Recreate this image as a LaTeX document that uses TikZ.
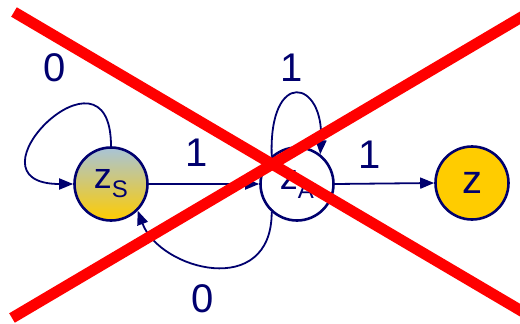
\documentclass[tikz,border=0pt]{standalone}
\usepackage{fontspec}
\setmainfont{Liberation Sans}
\usetikzlibrary{arrows.meta}
\definecolor{navy}{RGB}{0,0,110}
\definecolor{gold}{RGB}{255,204,0}
\definecolor{greyblue}{RGB}{168,196,216}
\definecolor{xred}{RGB}{255,0,0}
\begin{document}
\begin{tikzpicture}[x=1pt,y=-1pt,
  state/.style={circle,draw=navy,line width=2.6pt,minimum size=73pt,inner sep=0pt,text=navy},
  edge/.style={draw=navy,line width=1.8pt,-{Triangle[length=14pt,width=11pt]}},
  lbl/.style={text=navy,font=\fontsize{40}{40}\selectfont,inner sep=0pt},
  cross/.style={draw=xred,line width=11pt}]
\useasboundingbox (0,0) rectangle (520,324);
\node[state,top color=greyblue,bottom color=gold] (zs) at (111,184)
  {\fontsize{36}{36}\selectfont z\raisebox{-9pt}{\fontsize{24}{24}\selectfont S}};
\node[state,fill=white] (za) at (297,184)
  {\fontsize{36}{36}\selectfont z\raisebox{-9pt}{\fontsize{24}{24}\selectfont A}};
\node[state,fill=gold] (z) at (472,183) {\fontsize{40}{40}\selectfont z};
% edges
\draw[edge] (zs.north) .. controls +(0,-115) and +(-115,0) .. (zs.west);
\draw[edge] (zs.east) -- (za.west);
\draw[edge] (za.132) .. controls +(-3,-88) and +(4,-75) .. (za.52);
\draw[edge] (za.228) .. controls +(0,88) and +(22,59) .. (zs.-45);
\draw[edge] (za.east) -- (z.west);
% labels
\node[lbl] (l0a) at (55,68) {0};
\node[lbl] (l1a) at (197,153) {1};
\node[lbl] (l1b) at (292,68) {1};
\node[lbl] (l1c) at (370,155) {1};
\node[lbl] (l0b) at (203,299) {0};
% red cross
\coordinate (c1) at (14,12);
\coordinate (c2) at (530,316);
\coordinate (c3) at (12,318);
\coordinate (c4) at (530,12);
\draw[cross] (c1) -- (c2);
\draw[cross] (c3) -- (c4);
\end{tikzpicture}
\end{document}
